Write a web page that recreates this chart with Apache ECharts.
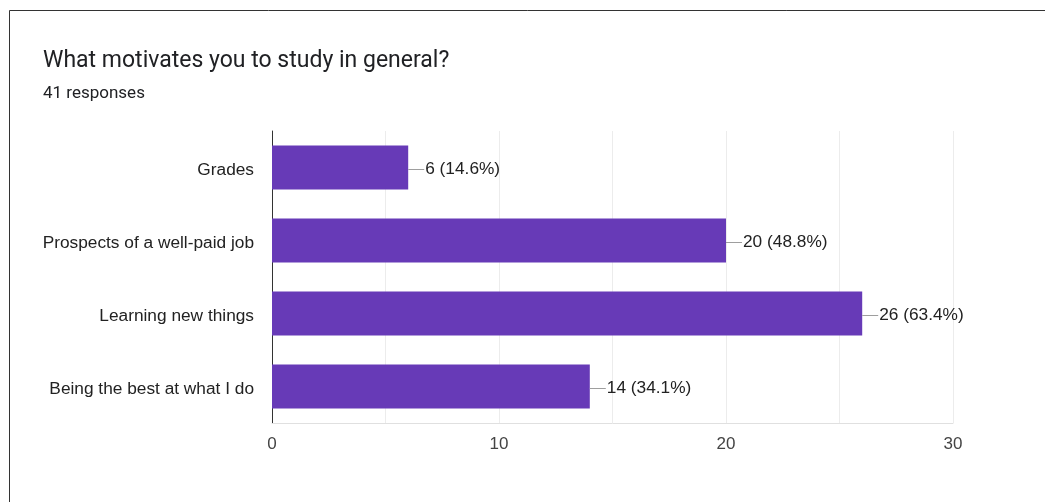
<!DOCTYPE html>
<html>
<head>
<meta charset="utf-8">
<script src="https://cdn.jsdelivr.net/npm/echarts@6/dist/echarts.min.js"></script>
<style>
html,body{margin:0;padding:0;background:#fff;}
#c{width:1045px;height:502px;}
</style>
</head>
<body>
<div id="c"></div>
<script>
const titleText = 'What motivates you to study in general?';
const subtitleText = '41 responses';
const categories = ['Grades', 'Prospects of a well-paid job', 'Learning new things', 'Being the best at what I do'];
const counts = [6, 20, 26, 14];
const percents = ['14.6%', '48.8%', '63.4%', '34.1%'];
const xTicks = [0, 10, 20, 30];

const chart = echarts.init(document.getElementById('c'), null, {renderer: 'canvas'});
const labelFont = '"Liberation Sans", Arial, sans-serif';
chart.setOption({
  animation: false,
  backgroundColor: '#fff',
  title: [
    {text: titleText, left: 38, top: 45, textStyle: {fontFamily: 'Roboto, sans-serif', fontSize: 23, fontWeight: 'normal', color: '#202124'}},
    {text: subtitleText, left: 38, top: 80, textStyle: {fontFamily: 'Roboto, sans-serif', fontSize: 17, fontWeight: 'normal', color: '#202124'}}
  ],
  graphic: [
    {type: 'polyline', shape: {points: [[9.5, 502], [9.5, 10.5], [1045, 10.5]]}, style: {stroke: '#333', lineWidth: 1, fill: null}, silent: true}
  ],
  grid: {left: 272, right: 92, top: 131, bottom: 79, containLabel: false},
  xAxis: {
    type: 'value', min: 0, max: 30, interval: 5,
    axisLine: {show: true, lineStyle: {color: '#e0e0e0'}},
    axisTick: {show: false},
    splitLine: {show: true, lineStyle: {color: '#ececec', width: 1}},
    axisLabel: {
      formatter: v => (xTicks.indexOf(v) >= 0 ? String(v) : ''),
      fontFamily: labelFont, fontSize: 17, color: '#444', margin: 13
    }
  },
  yAxis: {
    type: 'category', data: categories, inverse: true,
    axisLine: {show: true, lineStyle: {color: '#333', width: 1}},
    axisTick: {show: false},
    splitLine: {show: false},
    axisLabel: {
      margin: 18,
      formatter: v => '{c|' + v + '}',
      rich: {c: {fontFamily: labelFont, fontSize: 17.3, color: '#222', padding: [5, 0, 0, 0]}}
    }
  },
  series: [{
    type: 'bar',
    data: counts,
    barWidth: '60%',
    itemStyle: {color: '#673ab7'},
    label: {
      show: true, position: 'right', distance: 0, offset: [0, 2],
      formatter: p => '{l|}{t|' + counts[p.dataIndex] + ' (' + percents[p.dataIndex] + ')}',
      rich: {
        l: {width: 16, height: 1, backgroundColor: '#9e9e9e', verticalAlign: 'middle'},
        t: {fontFamily: labelFont, fontSize: 17.3, color: '#222', padding: [0, 0, 0, 1]}
      }
    }
  }]
});
</script>
</body>
</html>
